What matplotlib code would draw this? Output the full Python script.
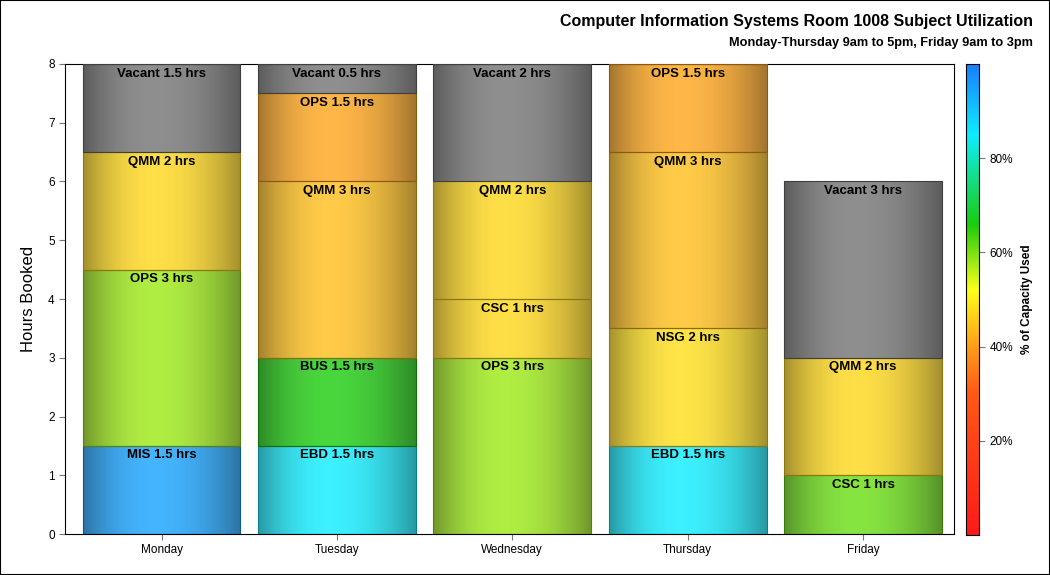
import matplotlib
matplotlib.use("Agg")
import matplotlib.pyplot as plt
import numpy as np
from matplotlib.colors import LinearSegmentedColormap
from matplotlib.patches import Rectangle

plt.rcParams["font.family"] = ["Liberation Sans", "DejaVu Sans"]

days = ["Monday", "Tuesday", "Wednesday", "Thursday", "Friday"]

# segments per day, bottom -> top: (subject, hours, % capacity used; None = vacant)
monday = [("MIS", 1.5, 95), ("OPS", 3, 58), ("QMM", 2, 47), ("Vacant", 1.5, None)]
tuesday = [("EBD", 1.5, 85), ("BUS", 1.5, 66), ("QMM", 3, 44), ("OPS", 1.5, 41), ("Vacant", 0.5, None)]
wednesday = [("OPS", 3, 58), ("CSC", 1, 47), ("QMM", 2, 47), ("Vacant", 2, None)]
thursday = [("EBD", 1.5, 85), ("NSG", 2, 48), ("QMM", 3, 44), ("OPS", 1.5, 41)]
friday = [("CSC", 1, 61), ("QMM", 2, 47), ("Vacant", 3, None)]
week = [monday, tuesday, wednesday, thursday, friday]

cbar_ticks = [20, 40, 60, 80]

cmap = LinearSegmentedColormap.from_list("capacity", [
    (0.0, (1.0, 0.10, 0.10)),
    (0.3, (1.0, 0.35, 0.08)),
    (0.4, (1.0, 0.62, 0.10)),
    (0.52, (1.0, 1.0, 0.10)),
    (0.66, (0.10, 0.80, 0.05)),
    (0.85, (0.05, 0.93, 1.0)),
    (1.0, (0.10, 0.50, 1.0)),
])
GRAY = np.array([0.45, 0.45, 0.45])


def shade(base, n=200):
    # cylinder-ish look: lightest a little left of centre, dark edges
    t = np.linspace(0, 1, n)
    d = np.where(t < 0.45, 0.45, 0.55)
    f = 1 - 0.36 * np.abs((t - 0.45) / d) ** 2.0
    c = np.asarray(base)[:3] * 0.8 + 0.2
    return np.clip(c[None, :] * f[:, None], 0, 1)[None, :, :]


fig = plt.figure(figsize=(10.5, 5.75), dpi=100)
ax = fig.add_axes([0.062, 0.0713, 0.8467, 0.8174])
cax = fig.add_axes([0.92, 0.0696, 0.0124, 0.819])

w = 0.9
for i, segs in enumerate(week):
    bottom = 0
    for name, hrs, pct in segs:
        base = GRAY if pct is None else np.array(cmap(pct / 100)[:3])
        top = bottom + hrs
        ax.imshow(shade(base), extent=[i - w / 2, i + w / 2, bottom, top],
                  aspect="auto", interpolation="bilinear", zorder=2)
        ax.add_patch(Rectangle((i - w / 2, bottom), w, hrs, fill=False,
                               edgecolor=np.asarray(base) * 0.55, lw=0.8, zorder=3))
        ax.text(i, top - 0.06, f"{name} {hrs:g} hrs", ha="center", va="top",
                fontsize=9.5, fontweight="bold", zorder=4)
        bottom = top

ax.set_xlim(-0.55, 4.52)
ax.set_ylim(0, 8)
ax.set_xticks(range(len(days)))
ax.set_xticklabels(days, fontsize=8.5)
ax.set_yticks(range(9))
ax.tick_params(axis="both", labelsize=8.5, color="#777777", length=4)
ax.set_ylabel("Hours Booked", fontsize=12, labelpad=9)

grad = np.linspace(0, 1, 256)[:, None]
cax.imshow(grad, cmap=cmap, aspect="auto", origin="lower", extent=[0, 1, 0, 100])
cax.set_xticks([])
cax.yaxis.tick_right()
cax.set_yticks(cbar_ticks)
cax.set_yticklabels([f"{t}%" for t in cbar_ticks])
cax.tick_params(axis="y", labelsize=8.5, color="#777777", length=4)
cax.set_ylabel("% of Capacity Used", fontsize=8.5, fontweight="bold", labelpad=6)
cax.yaxis.set_label_position("right")

fig.text(0.984, 0.962, "Computer Information Systems Room 1008 Subject Utilization",
         ha="right", va="center", fontsize=11.5, fontweight="bold")
fig.text(0.984, 0.925, "Monday-Thursday 9am to 5pm, Friday 9am to 3pm",
         ha="right", va="center", fontsize=9.2, fontweight="bold")

fig.patches.append(Rectangle((0, 0), 1, 1, transform=fig.transFigure, fill=False,
                             edgecolor="black", lw=1.5))

fig.savefig("out.png", dpi=100)
